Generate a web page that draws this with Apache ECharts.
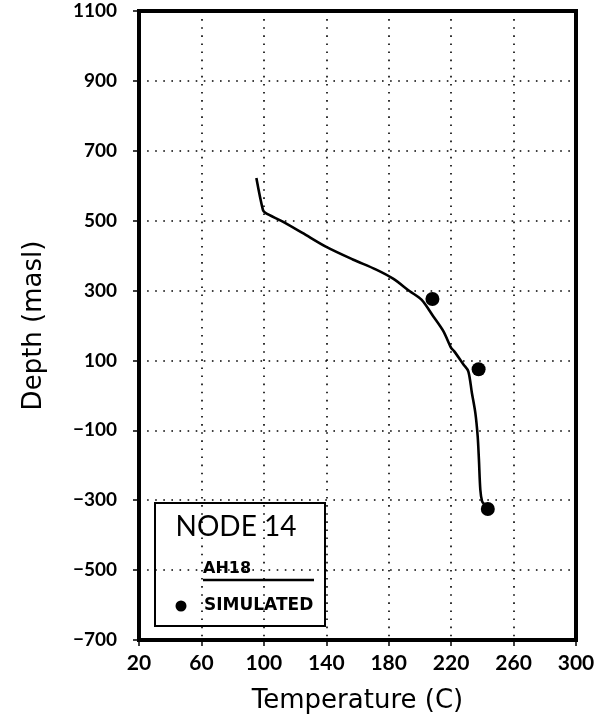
<!DOCTYPE html>
<html>
<head>
<meta charset="utf-8">
<script src="https://cdn.jsdelivr.net/npm/echarts@6/dist/echarts.min.js"></script>
<style>
  html, body { margin: 0; padding: 0; background: #fff; }
  #chart { width: 602px; height: 726px; }
</style>
</head>
<body>
<div id="chart"></div>
<script>
// Measured temperature profile of well AH18 (temperature C, elevation masl)
const ah18Temp  = [95.2, 99.4, 101, 111.8, 124.7, 140, 157, 172, 182.8, 193.5, 201, 208.6, 215, 220, 222, 228, 231, 233.3, 235.5, 237, 237.8, 238.7, 239.8, 241];
const ah18Depth = [622, 531, 522, 498, 465, 425, 389, 360, 334, 298, 274, 226, 184, 136, 126, 88, 69, 7, -50, -117, -184, -270, -303, -310];

// Simulated temperatures for node 14
const simTemp  = [208, 237.6, 243.5];
const simDepth = [276, 75, -325];

// Axis ticks
const xTicks = [20, 60, 100, 140, 180, 220, 260, 300];
const yTicks = [-700, -500, -300, -100, 100, 300, 500, 700, 900, 1100];

const FONT = 'Lato';
const WIDE_FONT = '"DejaVu Sans"';

const chart = echarts.init(document.getElementById('chart'), null, { renderer: 'canvas' });

const pairs = (xs, ys) => xs.map((x, i) => [x, ys[i]]);
const tickText = v => (v < 0 ? '\u2212' + Math.abs(v) : String(v));

chart.setOption({
  backgroundColor: '#fff',
  animation: false,
  grid: {
    left: 139, right: 26, top: 11, bottom: 86,
    show: true, borderColor: '#000', borderWidth: 4, backgroundColor: 'transparent'
  },
  xAxis: {
    type: 'value',
    min: xTicks[0], max: xTicks[xTicks.length - 1], interval: 40,
    name: 'Temperature (C)', nameLocation: 'middle', nameGap: 48,
    nameTextStyle: { fontFamily: 'DejaVu Sans', fontSize: 26, color: '#000' },
    axisLine: { show: true, onZero: false, lineStyle: { color: '#000', width: 4 } },
    axisTick: { show: true, length: 6, inside: false, lineStyle: { color: '#000', width: 1.5 } },
    axisLabel: { fontFamily: FONT, fontWeight: 'bold', fontSize: 21, color: '#000', margin: 13, formatter: tickText },
    splitLine: { show: true, lineStyle: { color: '#000', width: 1.6, type: [1.6, 6.5] } }
  },
  yAxis: {
    type: 'value',
    min: yTicks[0], max: yTicks[yTicks.length - 1], interval: 200,
    name: 'Depth (masl)', nameLocation: 'middle', nameGap: 92, nameRotate: 90,
    nameTextStyle: { fontFamily: 'DejaVu Sans', fontSize: 26, color: '#000' },
    axisLine: { show: true, onZero: false, lineStyle: { color: '#000', width: 4 } },
    axisTick: { show: true, length: 6, inside: false, lineStyle: { color: '#000', width: 1.5 } },
    axisLabel: { fontFamily: FONT, fontWeight: 'bold', fontSize: 19, color: '#000', margin: 22, formatter: tickText },
    splitLine: { show: true, lineStyle: { color: '#000', width: 1.6, type: [1.6, 6.5] } }
  },
  series: [
    {
      name: 'AH18',
      type: 'line',
      data: pairs(ah18Temp, ah18Depth),
      smooth: 0.3,
      showSymbol: false,
      lineStyle: { color: '#000', width: 2.6 },
      z: 3
    },
    {
      name: 'SIMULATED',
      type: 'scatter',
      data: pairs(simTemp, simDepth),
      symbol: 'circle',
      symbolSize: 14,
      itemStyle: { color: '#000', opacity: 1 },
      z: 4
    }
  ],
  graphic: [
    {
      type: 'group', left: 154, top: 502,
      children: [
        { type: 'rect', shape: { x: 0, y: 0, width: 170, height: 123 },
          style: { fill: '#fff', stroke: '#000', lineWidth: 2 } },
        { type: 'text', x: 81, y: 24,
          style: { text: 'NODE 14', font: '28px ' + FONT, fill: '#000', align: 'center', verticalAlign: 'middle' } },
        { type: 'text', x: 48, y: 66,
          style: { text: 'AH18', font: 'bold 16px ' + WIDE_FONT, fill: '#000', align: 'left', verticalAlign: 'middle' } },
        { type: 'line', shape: { x1: 48, y1: 77, x2: 159, y2: 77 },
          style: { stroke: '#000', lineWidth: 2.4 } },
        { type: 'circle', shape: { cx: 26, cy: 103, r: 5.5 }, style: { fill: '#000' } },
        { type: 'text', x: 49, y: 103,
          style: { text: 'SIMULATED', font: 'bold 17px ' + WIDE_FONT, fill: '#000', align: 'left', verticalAlign: 'middle' } }
      ]
    }
  ]
});
</script>
</body>
</html>
